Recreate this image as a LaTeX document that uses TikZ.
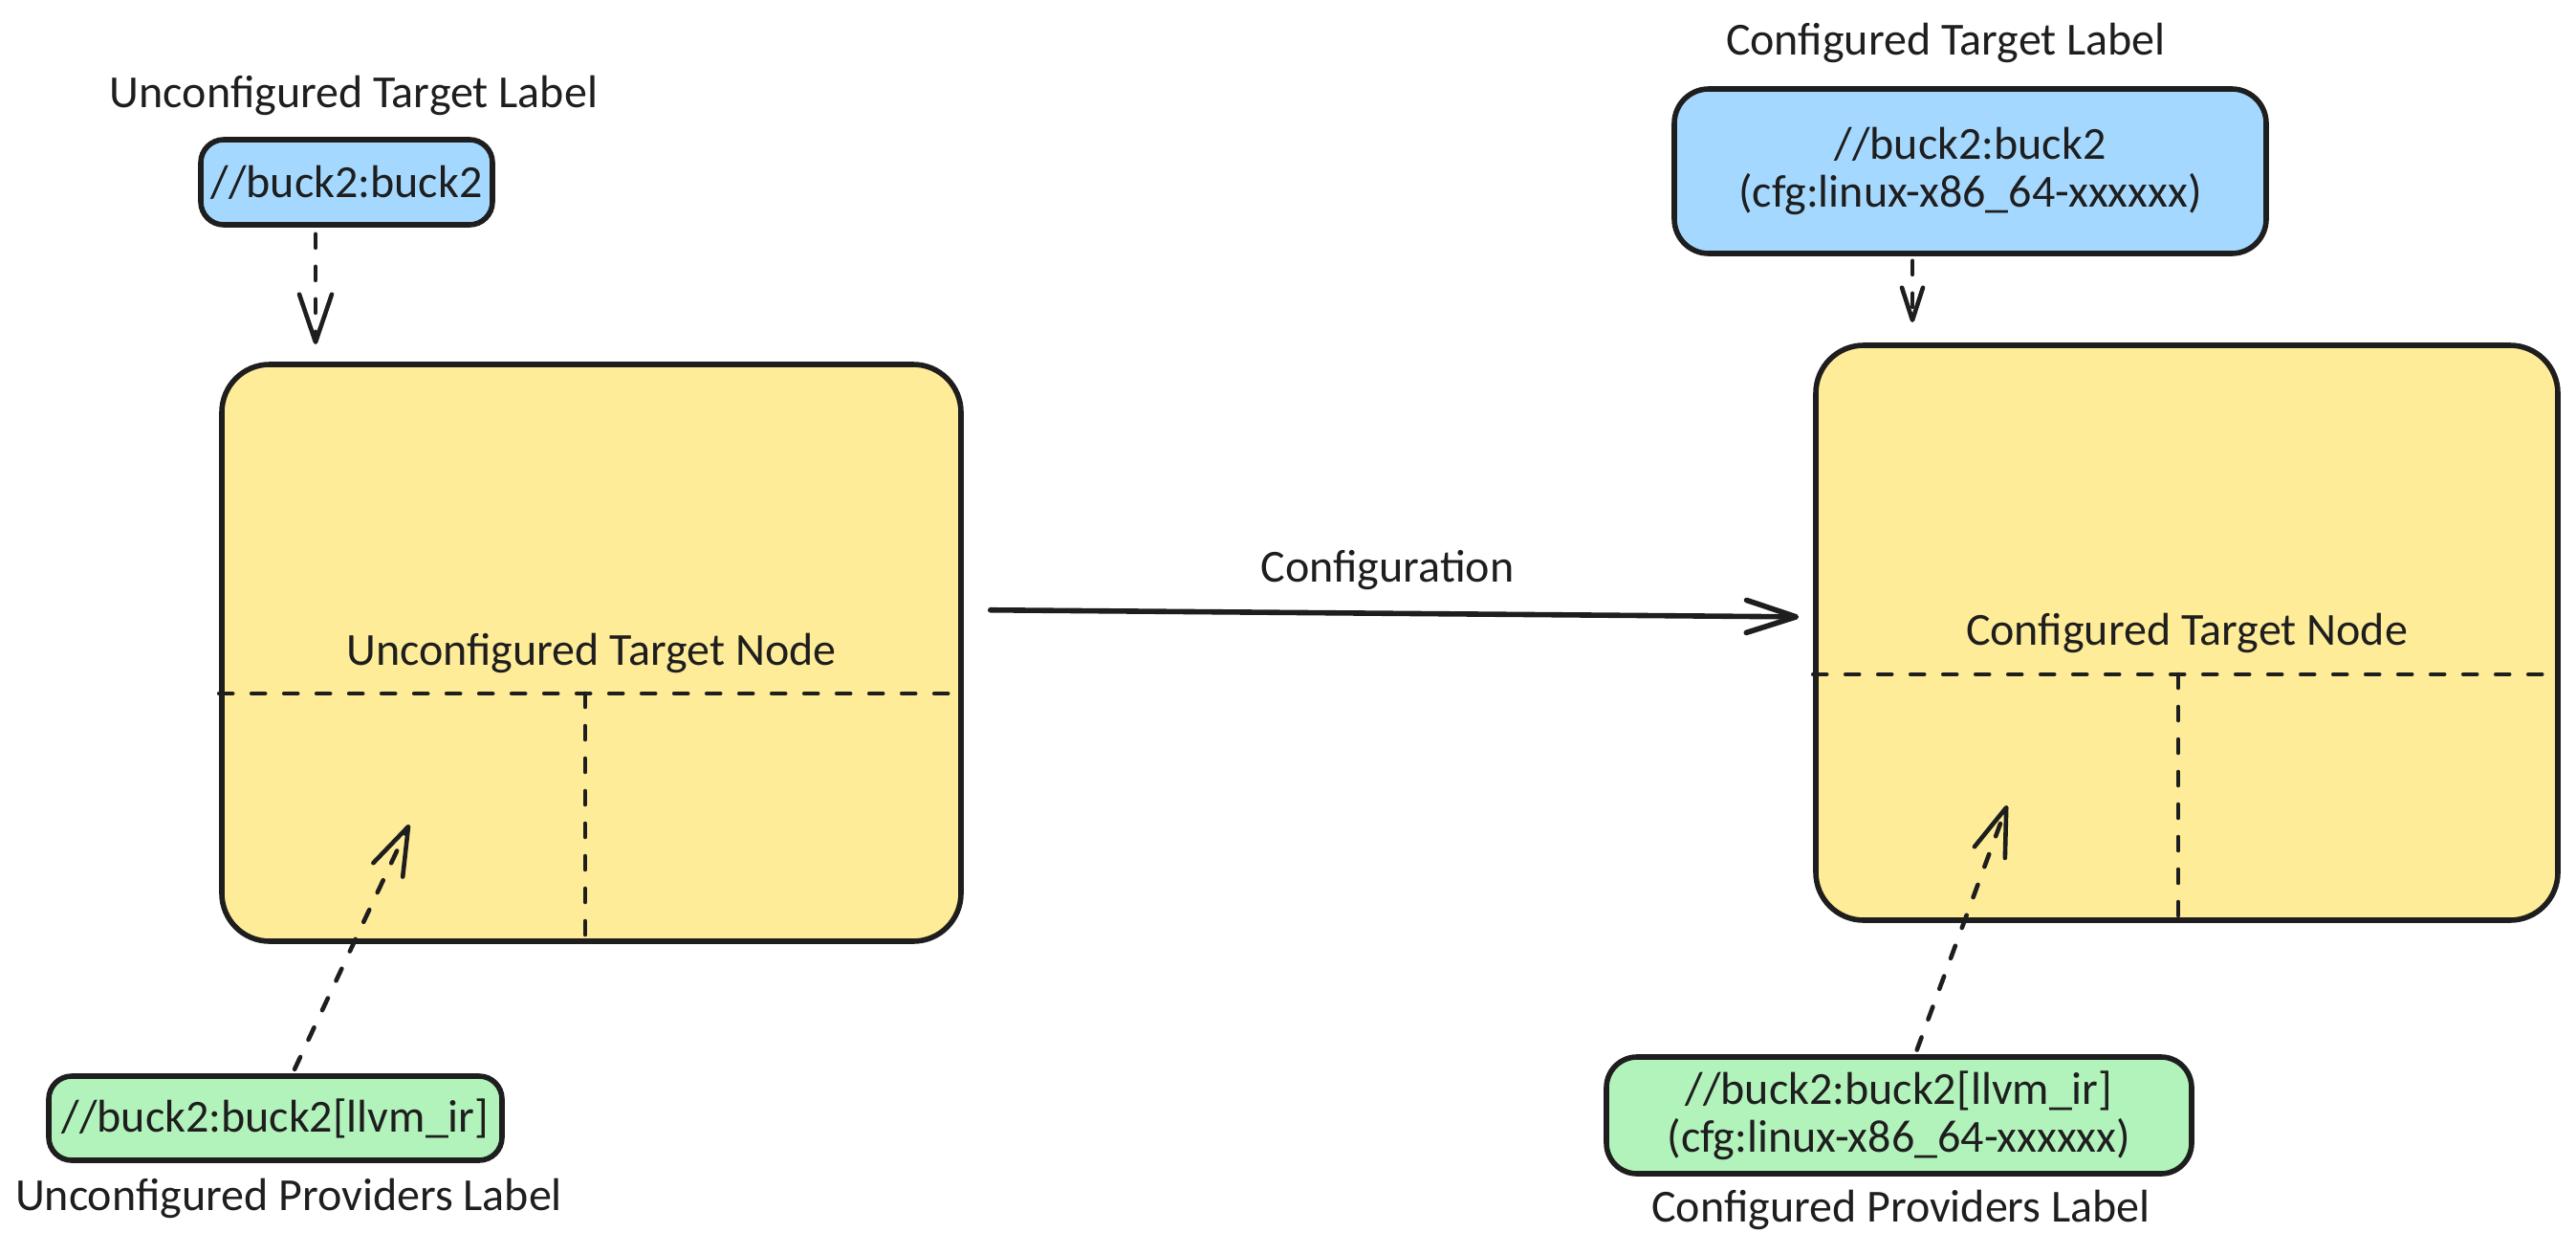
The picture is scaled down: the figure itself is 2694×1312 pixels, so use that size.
\documentclass[tikz,border=0pt]{standalone}
\usepackage{fontspec}
\setmainfont{Carlito}
\usetikzlibrary{arrows.meta}
\definecolor{ink}{HTML}{1E1E1E}
\definecolor{yfill}{HTML}{FFEC99}
\definecolor{bfill}{HTML}{A5D8FF}
\definecolor{gfill}{HTML}{B2F2BB}
\begin{document}
\begin{tikzpicture}[x=0.5pt,y=-0.5pt,
  txt/.style={font=\fontsize{24}{25}\selectfont, text=ink, inner sep=0pt, align=center},
  box/.style={txt, draw=ink, line width=2.8pt, rounded corners=12pt},
  bigbox/.style={txt, draw=ink, fill=yfill, line width=2.8pt, rounded corners=25pt},
  divider/.style={draw=ink, line width=2.3pt, line cap=round, dash pattern=on 7pt off 10pt},
  dasharrow/.style={draw=ink, line width=2.3pt, line cap=round, dash pattern=on 7pt off 10pt,
    -{Straight Barb[length=25pt,width=17pt,round]}},
  solidarrow/.style={draw=ink, line width=2.8pt, line cap=round,
    -{Straight Barb[length=26pt,width=17pt,round]}}
]
\useasboundingbox (0,0) rectangle (2694,1312);

% ---- left side ----
\node[txt] (lblUT) at (370,100) {Unconfigured Target Label};
\node[box, fill=bfill, minimum width=152.5pt, minimum height=44.5pt] (ub) at (362.5,190.5) {//buck2:buck2};
\node[bigbox, minimum width=386.5pt, minimum height=301.5pt] (uy) at (618.5,682.5) {Unconfigured Target Node};
\coordinate (uh) at (612,725);
\draw[divider] (uy.west |- uh) -- (uy.east |- uh);
\draw[divider] (uh) -- (uh |- uy.south);
\node[box, fill=gfill, minimum width=237pt, minimum height=44pt] (ug) at (288,1169) {//buck2:buck2[llvm\_ir]};
\node[txt] (lblUP) at (302,1253) {Unconfigured Providers Label};

\coordinate (t1) at (330,360);
\draw[dasharrow, shorten <=3.5pt] ([xshift=-16.25pt]ub.south) -- (t1);
\coordinate (t2) at (428,862);
\draw[dasharrow, shorten <=2.5pt] ([xshift=9pt]ug.north) -- (t2);

% ---- right side ----
\node[txt] (lblCT) at (2035,45) {Configured Target Label};
\node[box, fill=bfill, minimum width=309.5pt, minimum height=86pt, rounded corners=18pt] (cb) at (2060.5,179) {//buck2:buck2\\(cfg:linux-x86\_64-xxxxxx)};
\node[bigbox, minimum width=388pt, minimum height=300.5pt] (cy) at (2287,661.5) {Configured Target Node};
\coordinate (ch) at (2278,705);
\draw[divider] (cy.west |- ch) -- (cy.east |- ch);
\draw[divider] (ch) -- (ch |- cy.south);
\node[box, fill=gfill, minimum width=306pt, minimum height=61pt, rounded corners=16pt] (cg) at (1986,1166) {//buck2:buck2[llvm\_ir]\\(cfg:linux-x86\_64-xxxxxx)};
\node[txt] (lblCP) at (1988,1265) {Configured Providers Label};

\coordinate (t3) at (2000,337);
\draw[dasharrow, shorten <=2.5pt, -{Straight Barb[length=17pt,width=11pt,round]}] ([xshift=-30.25pt]cb.south) -- (t3);
\coordinate (t4) at (2099,842);
\draw[dasharrow, shorten <=2.5pt] ([xshift=8.5pt]cg.north) -- (t4);

% ---- configuration ----
\node[txt] (conf) at (1451,596) {Configuration};
\draw[solidarrow, shorten <=14pt, shorten >=7.5pt] ([yshift=22.5pt]uy.east) -- ([yshift=8.25pt]cy.west);
\end{tikzpicture}
\end{document}
